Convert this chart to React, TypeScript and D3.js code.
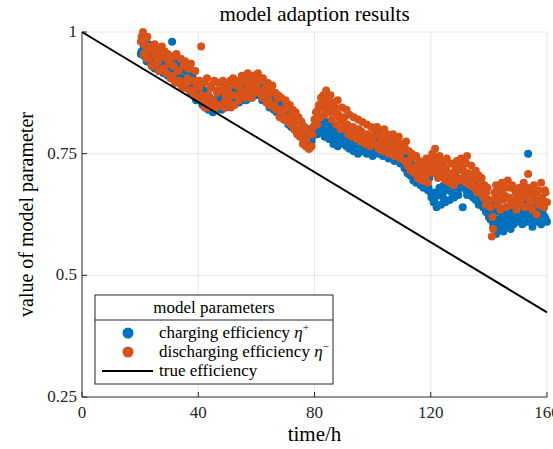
import React from "react";
import * as d3 from "d3";

const hours: number[] = [
  20.5,21,21.5,22,22.5,23,23.5,24,24.5,25,25.5,26,26.5,27,27.5,28,28.5,29,29.5,30,
  30.5,31,31.5,32,32.5,33,33.5,34,34.5,35,35.5,36,36.5,37,37.5,38,38.5,39,39.5,40,
  40.5,41,41.5,42,42.5,43,43.5,44,44.5,45,45.5,46,46.5,47,47.5,48,48.5,49,49.5,50,
  50.5,51,51.5,52,52.5,53,53.5,54,54.5,55,55.5,56,56.5,57,57.5,58,58.5,59,59.5,60,
  60.5,61,61.5,62,62.5,63,63.5,64,64.5,65,65.5,66,66.5,67,67.5,68,68.5,69,69.5,70,
  70.5,71,71.5,72,72.5,73,73.5,74,74.5,75,75.5,76,76.5,77,77.5,78,78.5,79,79.5,80,
  80.5,81,81.5,82,82.5,83,83.5,84,84.5,85,85.5,86,86.5,87,87.5,88,88.5,89,89.5,90,
  90.5,91,91.5,92,92.5,93,93.5,94,94.5,95,95.5,96,96.5,97,97.5,98,98.5,99,99.5,100,
  100.5,101,101.5,102,102.5,103,103.5,104,104.5,105,105.5,106,106.5,107,107.5,108,108.5,109,109.5,110,
  110.5,111,111.5,112,112.5,113,113.5,114,114.5,115,115.5,116,116.5,117,117.5,118,118.5,119,119.5,120,
  120.5,121,121.5,122,122.5,123,123.5,124,124.5,125,125.5,126,126.5,127,127.5,128,128.5,129,129.5,130,
  130.5,131,131.5,132,132.5,133,133.5,134,134.5,135,135.5,136,136.5,137,137.5,138,138.5,139,139.5,140,
  140.5,141,141.5,142,142.5,143,143.5,144,144.5,145,145.5,146,146.5,147,147.5,148,148.5,149,149.5,150,
  150.5,151,151.5,152,152.5,153,153.5,154,154.5,155,155.5,156,156.5,157,157.5,158,158.5,159,159.5,160,
];

const chargingEff: number[] = [
  0.96,0.98,0.95,0.965,0.94,0.975,0.945,0.93,0.96,0.925,0.965,0.94,0.92,0.955,0.935,0.915,0.94,0.95,0.91,0.93,
  0.94,0.98,0.905,0.935,0.9,0.93,0.945,0.9,0.925,0.89,0.92,0.885,0.915,0.895,0.875,0.91,0.88,0.865,0.9,0.87,
  0.865,0.89,0.85,0.88,0.845,0.87,0.84,0.865,0.845,0.835,0.86,0.84,0.865,0.845,0.87,0.84,0.86,0.875,0.845,0.865,
  0.85,0.875,0.855,0.88,0.86,0.885,0.865,0.855,0.88,0.89,0.865,0.885,0.86,0.88,0.895,0.875,0.865,0.89,0.87,0.885,
  0.895,0.87,0.885,0.86,0.89,0.865,0.855,0.88,0.845,0.87,0.875,0.84,0.865,0.835,0.86,0.83,0.855,0.825,0.82,0.845,
  0.835,0.81,0.84,0.805,0.83,0.8,0.825,0.795,0.82,0.79,0.815,0.785,0.805,0.78,0.8,0.775,0.795,0.775,0.8,0.795,
  0.815,0.79,0.82,0.795,0.825,0.8,0.785,0.815,0.795,0.78,0.81,0.785,0.77,0.805,0.78,0.765,0.795,0.775,0.8,0.77,
  0.79,0.765,0.795,0.76,0.785,0.77,0.755,0.79,0.765,0.75,0.78,0.76,0.785,0.755,0.775,0.75,0.78,0.755,0.77,0.745,
  0.775,0.755,0.785,0.75,0.77,0.78,0.745,0.77,0.75,0.775,0.74,0.765,0.745,0.77,0.735,0.76,0.74,0.765,0.73,0.755,
  0.745,0.72,0.75,0.71,0.735,0.705,0.73,0.695,0.72,0.69,0.715,0.695,0.685,0.71,0.68,0.705,0.685,0.675,0.7,0.67,
  0.665,0.65,0.67,0.64,0.665,0.68,0.645,0.67,0.685,0.65,0.675,0.69,0.655,0.68,0.695,0.66,0.685,0.7,0.665,0.69,
  0.695,0.64,0.685,0.7,0.665,0.69,0.705,0.67,0.66,0.69,0.655,0.68,0.645,0.67,0.685,0.64,0.665,0.63,0.655,0.62,
  0.615,0.645,0.6,0.63,0.585,0.605,0.64,0.595,0.625,0.59,0.62,0.635,0.6,0.625,0.595,0.63,0.605,0.645,0.61,0.635,
  0.615,0.64,0.605,0.63,0.645,0.61,0.75,0.635,0.615,0.6,0.64,0.615,0.65,0.61,0.635,0.605,0.63,0.645,0.615,0.61,
];

const dischargingEff: number[] = [
  0.99,1.0,0.975,0.96,0.99,0.945,0.97,0.93,0.96,0.975,0.935,0.965,0.92,0.95,0.97,0.925,0.96,0.915,0.955,0.935,
  0.905,0.95,0.93,0.895,0.955,0.92,0.9,0.945,0.885,0.93,0.94,0.895,0.925,0.88,0.935,0.9,0.87,0.92,0.89,0.865,
  0.9,0.97,0.86,0.895,0.85,0.905,0.87,0.845,0.89,0.855,0.9,0.845,0.875,0.895,0.85,0.88,0.9,0.845,0.87,0.89,
  0.855,0.9,0.87,0.905,0.85,0.89,0.9,0.86,0.885,0.91,0.875,0.865,0.905,0.915,0.875,0.9,0.87,0.91,0.885,0.905,
  0.915,0.875,0.905,0.865,0.9,0.87,0.855,0.895,0.85,0.88,0.89,0.845,0.875,0.84,0.87,0.825,0.865,0.835,0.82,0.86,
  0.845,0.815,0.85,0.81,0.84,0.8,0.835,0.79,0.825,0.785,0.815,0.77,0.805,0.765,0.795,0.76,0.79,0.765,0.805,0.82,
  0.835,0.81,0.85,0.825,0.855,0.87,0.83,0.88,0.85,0.835,0.87,0.82,0.855,0.835,0.81,0.86,0.825,0.8,0.845,0.815,
  0.805,0.84,0.79,0.83,0.8,0.785,0.825,0.795,0.78,0.82,0.79,0.775,0.815,0.785,0.77,0.81,0.78,0.765,0.805,0.775,
  0.8,0.77,0.805,0.76,0.795,0.775,0.755,0.8,0.765,0.79,0.75,0.785,0.76,0.79,0.745,0.78,0.755,0.785,0.74,0.77,
  0.765,0.735,0.775,0.725,0.755,0.715,0.75,0.72,0.71,0.745,0.7,0.735,0.705,0.695,0.73,0.7,0.74,0.69,0.725,0.735,
  0.75,0.71,0.76,0.73,0.7,0.745,0.715,0.735,0.705,0.695,0.74,0.71,0.69,0.73,0.7,0.685,0.72,0.735,0.695,0.725,
  0.74,0.7,0.73,0.69,0.745,0.71,0.685,0.725,0.695,0.68,0.715,0.67,0.705,0.675,0.7,0.66,0.685,0.645,0.68,0.65,
  0.64,0.58,0.595,0.67,0.685,0.645,0.675,0.635,0.69,0.655,0.68,0.64,0.695,0.66,0.645,0.685,0.65,0.675,0.635,0.665,
  0.68,0.645,0.67,0.69,0.64,0.665,0.708,0.675,0.65,0.635,0.685,0.655,0.625,0.675,0.645,0.69,0.655,0.64,0.67,0.65,
];

// second batch of samples (quarter-hour offsets)
const hoursB: number[] = [
  20.25,21.25,22.25,23.25,24.25,25.25,26.25,27.25,28.25,29.25,
  30.25,31.25,32.25,33.25,34.25,35.25,36.25,37.25,38.25,39.25,
  40.25,41.25,42.25,43.25,44.25,45.25,46.25,47.25,48.25,49.25,
  50.25,51.25,52.25,53.25,54.25,55.25,56.25,57.25,58.25,59.25,
  60.25,61.25,62.25,63.25,64.25,65.25,66.25,67.25,68.25,69.25,
  70.25,71.25,72.25,73.25,74.25,75.25,76.25,77.25,78.25,79.25,
  80.25,81.25,82.25,83.25,84.25,85.25,86.25,87.25,88.25,89.25,
  90.25,91.25,92.25,93.25,94.25,95.25,96.25,97.25,98.25,99.25,
  100.25,101.25,102.25,103.25,104.25,105.25,106.25,107.25,108.25,109.25,
  110.25,111.25,112.25,113.25,114.25,115.25,116.25,117.25,118.25,119.25,
  120.25,121.25,122.25,123.25,124.25,125.25,126.25,127.25,128.25,129.25,
  130.25,131.25,132.25,133.25,134.25,135.25,136.25,137.25,138.25,139.25,
  140.25,141.25,142.25,143.25,144.25,145.25,146.25,147.25,148.25,149.25,
  150.25,151.25,152.25,153.25,154.25,155.25,156.25,157.25,158.25,159.25,
];

const chargingEffB: number[] = [
  0.955,0.97,0.94,0.955,0.945,0.93,0.95,0.925,0.94,0.935,
  0.915,0.93,0.925,0.91,0.905,0.895,0.9,0.88,0.885,0.86,
  0.875,0.855,0.86,0.85,0.84,0.855,0.85,0.845,0.855,0.85,
  0.86,0.87,0.865,0.875,0.87,0.86,0.885,0.875,0.87,0.88,
  0.875,0.885,0.87,0.875,0.865,0.85,0.855,0.84,0.845,0.83,
  0.825,0.815,0.82,0.8,0.795,0.79,0.79,0.785,0.78,0.785,
  0.8,0.81,0.805,0.815,0.795,0.8,0.79,0.785,0.78,0.785,
  0.775,0.78,0.77,0.775,0.765,0.76,0.77,0.765,0.755,0.76,
  0.765,0.76,0.77,0.755,0.76,0.75,0.755,0.745,0.75,0.74,
  0.735,0.725,0.72,0.71,0.7,0.705,0.695,0.69,0.685,0.68,
  0.66,0.655,0.665,0.67,0.66,0.675,0.68,0.67,0.685,0.675,
  0.68,0.69,0.675,0.68,0.67,0.665,0.66,0.655,0.64,0.63,
  0.625,0.61,0.6,0.615,0.605,0.62,0.61,0.62,0.615,0.625,
  0.62,0.63,0.625,0.62,0.63,0.625,0.62,0.63,0.625,0.62,
];

const dischargingEffB: number[] = [
  0.98,0.955,0.945,0.965,0.93,0.95,0.94,0.96,0.92,0.945,
  0.935,0.91,0.95,0.92,0.89,0.935,0.905,0.925,0.88,0.9,
  0.885,0.87,0.845,0.865,0.885,0.86,0.88,0.85,0.895,0.86,
  0.88,0.845,0.895,0.87,0.885,0.9,0.875,0.89,0.865,0.91,
  0.895,0.88,0.905,0.885,0.86,0.875,0.85,0.865,0.84,0.835,
  0.855,0.825,0.83,0.815,0.8,0.795,0.775,0.78,0.76,0.79,
  0.815,0.84,0.865,0.845,0.86,0.85,0.84,0.845,0.83,0.82,
  0.825,0.81,0.8,0.805,0.79,0.8,0.795,0.78,0.79,0.77,
  0.785,0.79,0.77,0.78,0.765,0.775,0.76,0.765,0.77,0.75,
  0.755,0.76,0.73,0.74,0.715,0.725,0.71,0.72,0.705,0.715,
  0.725,0.74,0.72,0.71,0.73,0.72,0.705,0.71,0.7,0.715,
  0.72,0.715,0.73,0.705,0.69,0.7,0.68,0.69,0.665,0.67,
  0.655,0.62,0.66,0.655,0.67,0.665,0.66,0.68,0.655,0.67,
  0.655,0.675,0.66,0.68,0.65,0.665,0.67,0.645,0.66,0.675,
];

const trueHours: number[] = [0, 160];
const trueEff: number[] = [1.0, 0.424];

const xTicks: number[] = [0, 40, 80, 120, 160];
const yTicks: number[] = [0.25, 0.5, 0.75, 1];
const yTickLabels: string[] = ["0.25", "0.5", "0.75", "1"];

const W = 553;
const H = 449;
const M = { left: 82, right: 6, top: 32, bottom: 52 };
const FONT = "'Liberation Serif', 'DejaVu Serif', serif";
const BLUE = "#0072BD";
const ORANGE = "#D95319";
const AXIS = "#262626";

export default function App() {
  const x = d3.scaleLinear().domain([0, 160]).range([M.left, W - M.right]);
  const y = d3.scaleLinear().domain([0.25, 1]).range([H - M.bottom, M.top]);
  const line = d3
    .line<number>()
    .x((_, i) => x(trueHours[i]))
    .y((d) => y(d));

  const x0 = x(0), x1 = x(160), y0 = y(0.25), y1 = y(1);
  const lg = { x: 95, y: 295, w: 238, h: 89 };

  const blue = [
    ...chargingEff.map((v, i) => [hours[i], v]),
    ...chargingEffB.map((v, i) => [hoursB[i], v]),
  ];
  const orange = [
    ...dischargingEff.map((v, i) => [hours[i], v]),
    ...dischargingEffB.map((v, i) => [hoursB[i], v]),
  ];

  return (
    <svg
      width={W}
      height={H}
      style={{ position: "fixed", left: 0, top: 0, background: "#fff" }}
      fontFamily={FONT}
    >
      <rect x={0} y={0} width={W} height={H} fill="#fff" />
      {xTicks.filter((t) => t > 0).map((t) => (
        <line key={"gx" + t} x1={x(t)} x2={x(t)} y1={y0} y2={y1} stroke="#e6e6e6" strokeWidth={1} />
      ))}
      {yTicks.filter((t) => t > 0.25).map((t) => (
        <line key={"gy" + t} x1={x0} x2={x1} y1={y(t)} y2={y(t)} stroke="#e6e6e6" strokeWidth={1} />
      ))}
      <g>
        {blue.map((d, i) => (
          <circle key={"b" + i} cx={x(d[0])} cy={y(d[1])} r={4} fill={BLUE} />
        ))}
      </g>
      <g>
        {orange.map((d, i) => (
          <circle key={"o" + i} cx={x(d[0])} cy={y(d[1])} r={4} fill={ORANGE} />
        ))}
      </g>
      <path d={line(trueEff) || ""} stroke="#000" strokeWidth={2} fill="none" />
      <line x1={x0} x2={x0} y1={y0} y2={y1} stroke={AXIS} strokeWidth={1} />
      <line x1={x0} x2={x1} y1={y0} y2={y0} stroke={AXIS} strokeWidth={1} />
      {xTicks.map((t) => (
        <g key={"xt" + t}>
          <line x1={x(t)} x2={x(t)} y1={y0} y2={y0 - 5} stroke={AXIS} strokeWidth={1} />
          <text x={x(t)} y={y0 + 21} textAnchor="middle" fontSize={17} fill={AXIS}>
            {t}
          </text>
        </g>
      ))}
      {yTicks.map((t, i) => (
        <g key={"yt" + t}>
          <line x1={x0} x2={x0 + 5} y1={y(t)} y2={y(t)} stroke={AXIS} strokeWidth={1} />
          <text x={x0 - 5} y={y(t) + 5} textAnchor="end" fontSize={17} fill={AXIS}>
            {yTickLabels[i]}
          </text>
        </g>
      ))}
      <text x={(x0 + x1) / 2} y={21} textAnchor="middle" fontSize={21} fill="#000">
        model adaption results
      </text>
      <text x={(x0 + x1) / 2} y={441} textAnchor="middle" fontSize={21} fill="#000">
        time/h
      </text>
      <text
        transform={`translate(33, ${(y0 + y1) / 2}) rotate(-90)`}
        textAnchor="middle"
        fontSize={20}
        fill="#000"
      >
        value of model parameter
      </text>
      <rect x={lg.x} y={lg.y} width={lg.w} height={lg.h} fill="#fff" stroke={AXIS} strokeWidth={1} />
      <line x1={lg.x} x2={lg.x + lg.w} y1={lg.y + 25} y2={lg.y + 25} stroke={AXIS} strokeWidth={1} />
      <text x={lg.x + lg.w / 2} y={lg.y + 18} textAnchor="middle" fontSize={17} fill="#000">
        model parameters
      </text>
      <circle cx={128} cy={333} r={5.5} fill={BLUE} />
      <text x={159} y={338} fontSize={17} fill="#000">
        charging efficiency <tspan fontStyle="italic">η</tspan>
        <tspan fontSize={11} dy={-7}>+</tspan>
      </text>
      <circle cx={128} cy={352} r={5.5} fill={ORANGE} />
      <text x={159} y={357} fontSize={17} fill="#000">
        discharging efficiency <tspan fontStyle="italic">η</tspan>
        <tspan fontSize={11} dy={-7}>−</tspan>
      </text>
      <line x1={102} x2={153} y1={371} y2={371} stroke="#000" strokeWidth={2} />
      <text x={159} y={376} fontSize={17} fill="#000">
        true efficiency
      </text>
    </svg>
  );
}
